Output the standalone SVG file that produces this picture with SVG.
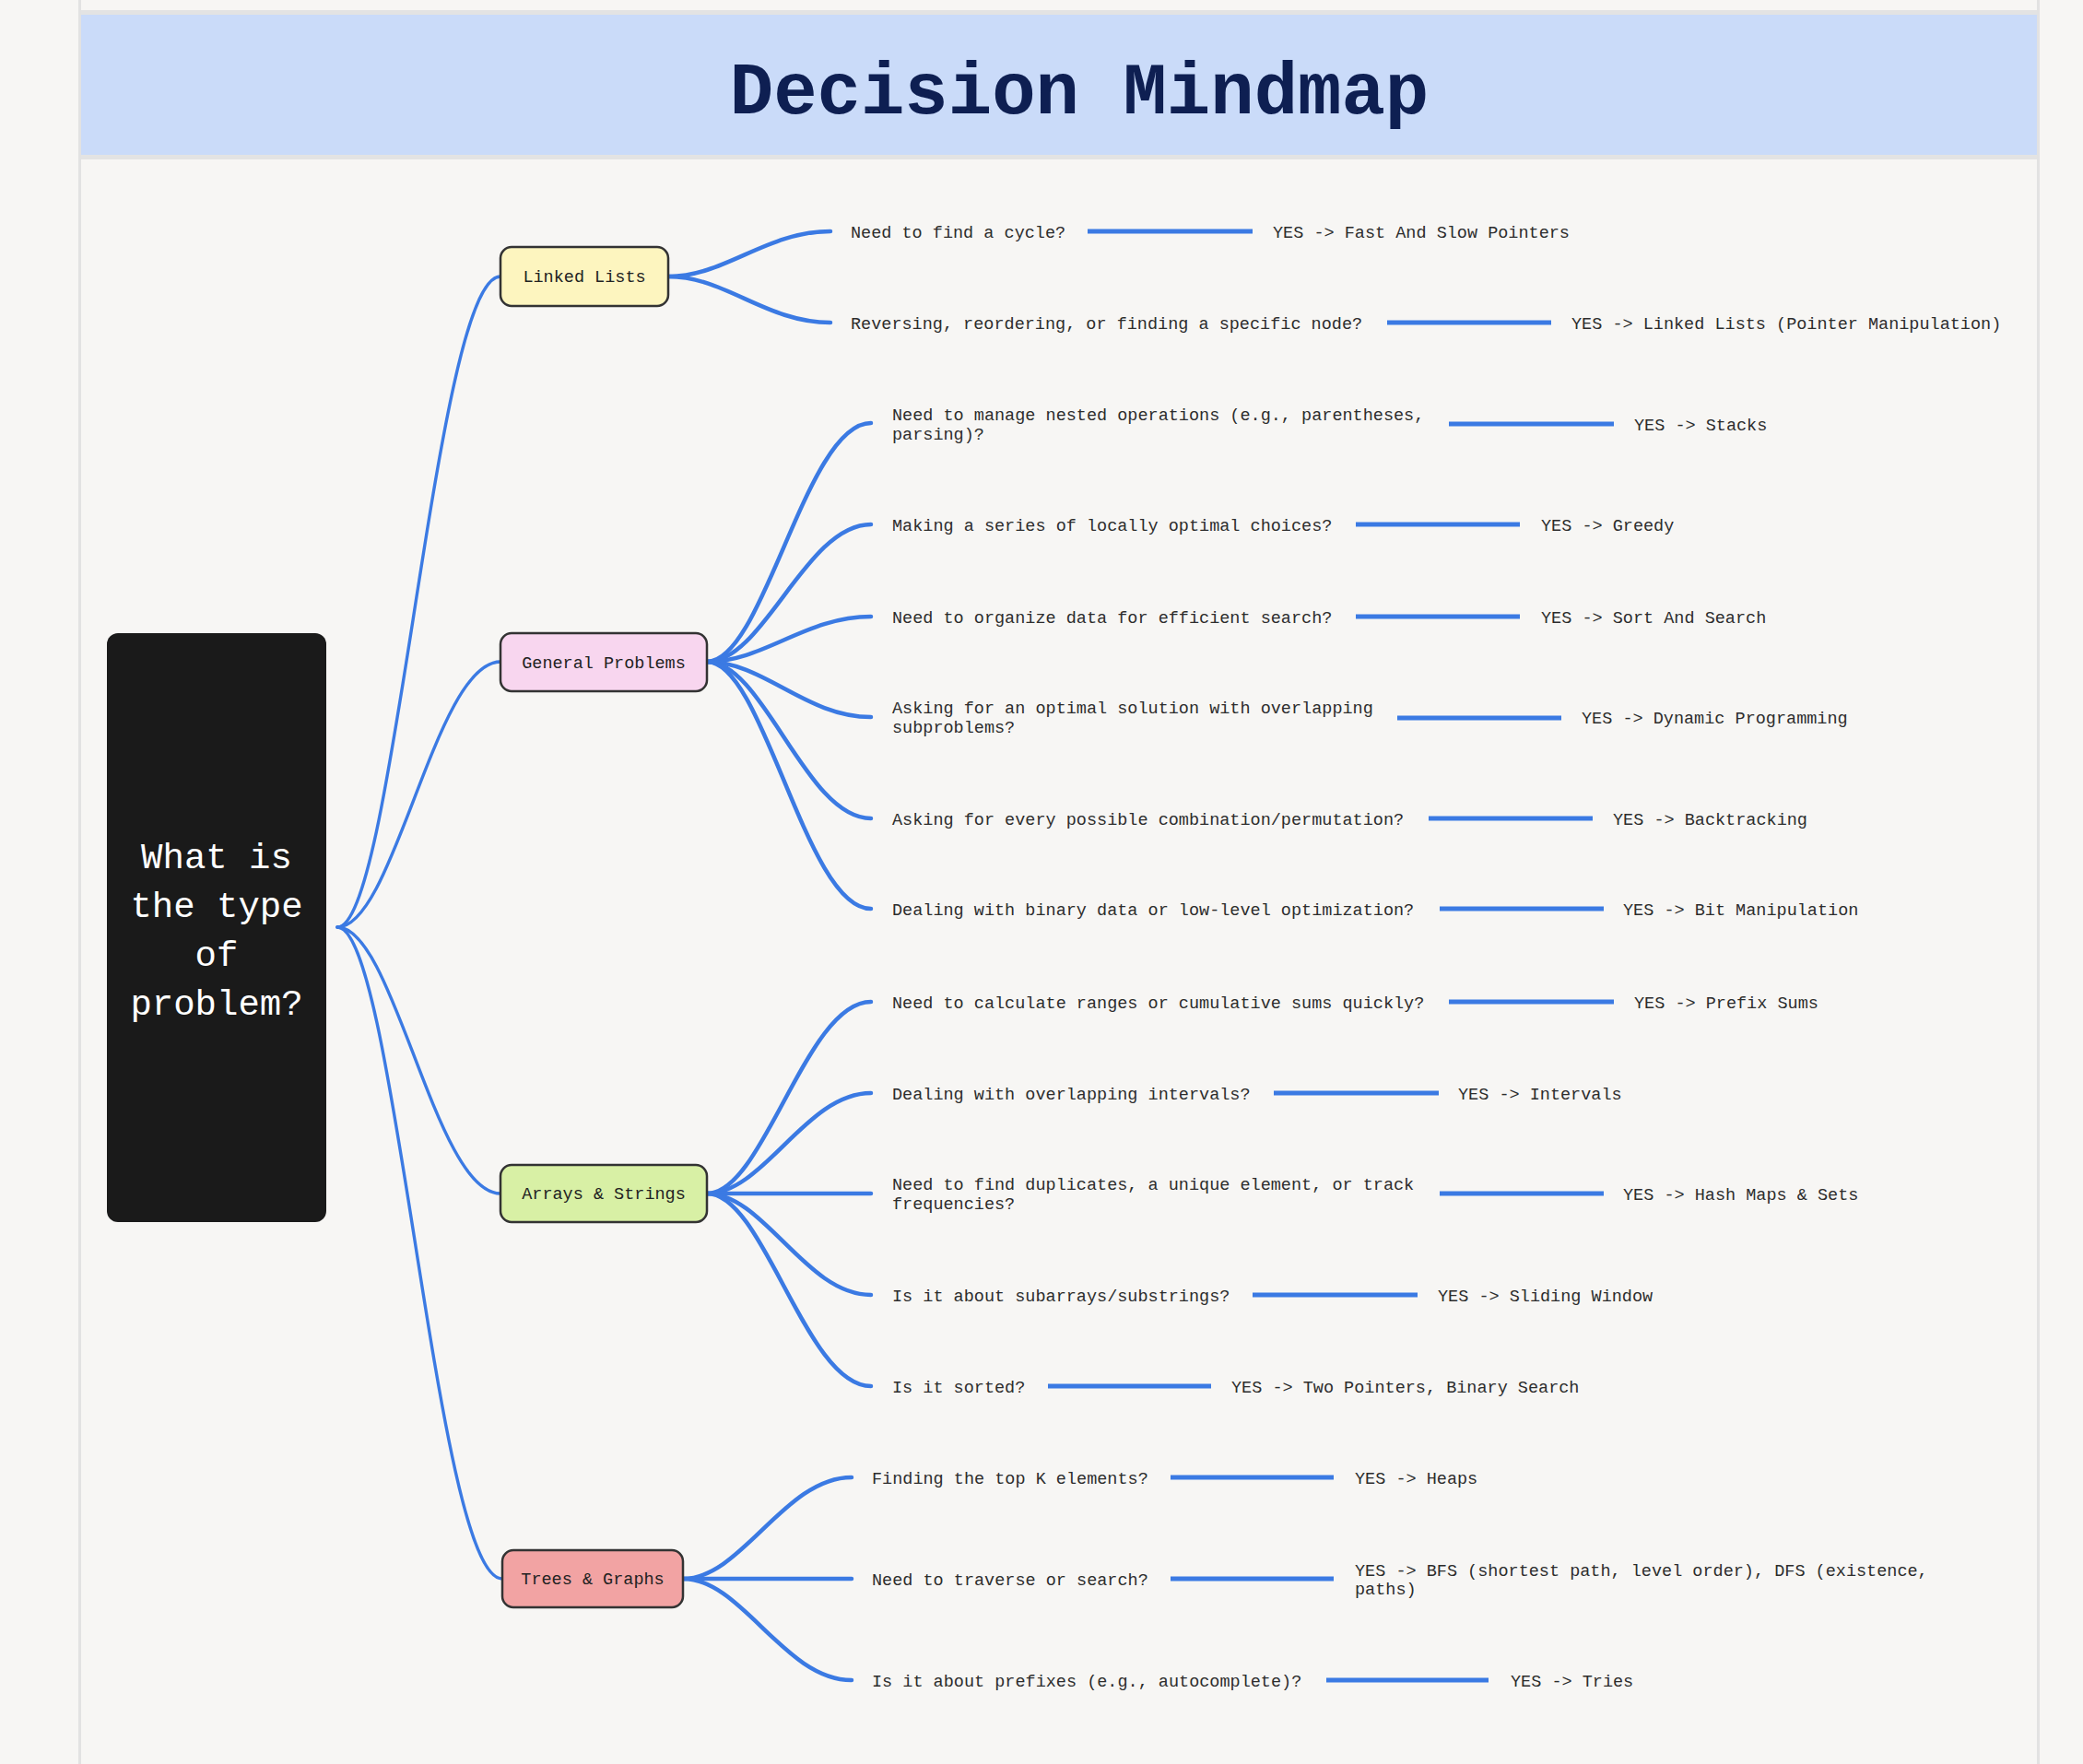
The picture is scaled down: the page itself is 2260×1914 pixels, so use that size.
<svg xmlns="http://www.w3.org/2000/svg" width="2260" height="1914" viewBox="0 0 2260 1914">
<style>
.q{font-family:"Liberation Mono","DejaVu Sans Mono",monospace;font-size:18.5px;fill:#2d2d2d}
.nt{font-family:"Liberation Mono","DejaVu Sans Mono",monospace;font-size:18.5px;fill:#222;text-anchor:middle}
.c1{fill:none;stroke:#3b7ae3;stroke-width:3.4;stroke-linecap:round}
.c2{fill:none;stroke:#3b7ae3;stroke-width:4.5;stroke-linecap:round}
.h{fill:none;stroke:#3b7ae3;stroke-width:5}
.box{stroke:#333;stroke-width:2.5}
</style>
<rect x="0" y="0" width="2260" height="1914" fill="#f7f6f4"/>
<g id="panel">
<rect x="87" y="0" width="2124" height="1914" fill="#f7f6f4"/>
<line x1="86.5" y1="0" x2="86.5" y2="1914" stroke="#e2e2e2" stroke-width="3"/>
<line x1="2211.5" y1="0" x2="2211.5" y2="1914" stroke="#e2e2e2" stroke-width="3"/>
<rect x="88" y="11" width="2122" height="5" fill="#e3e3e3"/>
<rect x="88" y="16" width="2122" height="152" fill="#cadbf9"/>
<rect x="88" y="168" width="2122" height="5" fill="#e3e3e3"/>
<text x="1171" y="123" text-anchor="middle" font-family="'Liberation Mono','DejaVu Sans Mono',monospace" font-weight="bold" font-size="79" fill="#0e1f52">Decision Mindmap</text>
</g>
<g id="connectors">
<path class="c1" d="M366,1006 C428,1006 472,300 543,300"/>
<path class="c1" d="M366,1006 C428,1006 472,718 543,718"/>
<path class="c1" d="M366,1006 C428,1006 472,1295 543,1295"/>
<path class="c1" d="M366,1006 C429,1006 473,1713 545,1713"/>
<path class="c2" d="M725,300 C787,300 831,251 901,251"/>
<path class="c2" d="M725,300 C787,300 831,350 901,350"/>
<path class="c2" d="M767,718 C829,718 874,459 945,459"/>
<path class="c2" d="M767,718 C829,718 874,569 945,569"/>
<path class="c2" d="M767,718 C829,718 874,669 945,669"/>
<path class="c2" d="M767,718 C829,718 874,778 945,778"/>
<path class="c2" d="M767,718 C829,718 874,888 945,888"/>
<path class="c2" d="M767,718 C829,718 874,986 945,986"/>
<path class="c2" d="M767,1295 C829,1295 874,1087 945,1087"/>
<path class="c2" d="M767,1295 C829,1295 874,1186 945,1186"/>
<path class="c2" d="M767,1295 L945,1295"/>
<path class="c2" d="M767,1295 C829,1295 874,1405 945,1405"/>
<path class="c2" d="M767,1295 C829,1295 874,1504 945,1504"/>
<path class="c2" d="M741,1713 C805,1713 851,1603 924,1603"/>
<path class="c2" d="M741,1713 L924,1713"/>
<path class="c2" d="M741,1713 C805,1713 851,1823 924,1823"/>
<line class="h" x1="1180" y1="251" x2="1359" y2="251"/>
<line class="h" x1="1505" y1="350" x2="1683" y2="350"/>
<line class="h" x1="1572" y1="460" x2="1751" y2="460"/>
<line class="h" x1="1471" y1="569" x2="1649" y2="569"/>
<line class="h" x1="1471" y1="669" x2="1649" y2="669"/>
<line class="h" x1="1516" y1="779" x2="1694" y2="779"/>
<line class="h" x1="1550" y1="888" x2="1728" y2="888"/>
<line class="h" x1="1562" y1="986" x2="1740" y2="986"/>
<line class="h" x1="1572" y1="1087" x2="1751" y2="1087"/>
<line class="h" x1="1382" y1="1186" x2="1561" y2="1186"/>
<line class="h" x1="1562" y1="1295" x2="1740" y2="1295"/>
<line class="h" x1="1359" y1="1405" x2="1538" y2="1405"/>
<line class="h" x1="1137" y1="1504" x2="1314" y2="1504"/>
<line class="h" x1="1270" y1="1603" x2="1447" y2="1603"/>
<line class="h" x1="1270" y1="1713" x2="1447" y2="1713"/>
<line class="h" x1="1439" y1="1823" x2="1615" y2="1823"/>
</g>
<g id="root">
<rect x="116" y="687" width="238" height="639" rx="12" fill="#1a1a1a"/>
<text font-family="'Liberation Mono','DejaVu Sans Mono',monospace" font-size="39" fill="#ffffff" text-anchor="middle"><tspan x="235" y="942">What is</tspan><tspan x="235" y="995">the type</tspan><tspan x="235" y="1048">of</tspan><tspan x="235" y="1101">problem?</tspan></text>
</g>
<g id="linked-lists">
<rect class="box" x="543" y="268" width="182" height="64" rx="12" fill="#fdf5bf"/>
<text class="nt" x="634" y="306">Linked Lists</text>
</g>
<g id="general-problems">
<rect class="box" x="543" y="687" width="224" height="63" rx="12" fill="#f8d6ef"/>
<text class="nt" x="655" y="724.5">General Problems</text>
</g>
<g id="arrays-strings">
<rect class="box" x="543" y="1264" width="224" height="62" rx="12" fill="#d8f0a5"/>
<text class="nt" x="655" y="1301">Arrays &amp; Strings</text>
</g>
<g id="trees-graphs">
<rect class="box" x="545" y="1682" width="196" height="62" rx="12" fill="#f2a3a3"/>
<text class="nt" x="643" y="1719">Trees &amp; Graphs</text>
</g>
<g id="ll-q1"><text class="q" x="923" y="257.5">Need to find a cycle?</text></g>
<g id="ll-a1"><text class="q" x="1381" y="257.5">YES -&gt; Fast And Slow Pointers</text></g>
<g id="ll-q2"><text class="q" x="923" y="356.5">Reversing, reordering, or finding a specific node?</text></g>
<g id="ll-a2"><text class="q" x="1705" y="356.5">YES -&gt; Linked Lists (Pointer Manipulation)</text></g>
<g id="gp-q1"><text class="q"><tspan x="968" y="455.5">Need to manage nested operations (e.g., parentheses,</tspan><tspan x="968" y="476.5">parsing)?</tspan></text></g>
<g id="gp-a1"><text class="q" x="1773" y="466.5">YES -&gt; Stacks</text></g>
<g id="gp-q2"><text class="q" x="968" y="575.5">Making a series of locally optimal choices?</text></g>
<g id="gp-a2"><text class="q" x="1672" y="575.5">YES -&gt; Greedy</text></g>
<g id="gp-q3"><text class="q" x="968" y="675.5">Need to organize data for efficient search?</text></g>
<g id="gp-a3"><text class="q" x="1672" y="675.5">YES -&gt; Sort And Search</text></g>
<g id="gp-q4"><text class="q"><tspan x="968" y="774">Asking for an optimal solution with overlapping</tspan><tspan x="968" y="794.5">subproblems?</tspan></text></g>
<g id="gp-a4"><text class="q" x="1716" y="785">YES -&gt; Dynamic Programming</text></g>
<g id="gp-q5"><text class="q" x="968" y="894.5">Asking for every possible combination/permutation?</text></g>
<g id="gp-a5"><text class="q" x="1750" y="894.5">YES -&gt; Backtracking</text></g>
<g id="gp-q6"><text class="q" x="968" y="992.5">Dealing with binary data or low-level optimization?</text></g>
<g id="gp-a6"><text class="q" x="1761" y="992.5">YES -&gt; Bit Manipulation</text></g>
<g id="as-q1"><text class="q" x="968" y="1093.5">Need to calculate ranges or cumulative sums quickly?</text></g>
<g id="as-a1"><text class="q" x="1773" y="1093.5">YES -&gt; Prefix Sums</text></g>
<g id="as-q2"><text class="q" x="968" y="1192.5">Dealing with overlapping intervals?</text></g>
<g id="as-a2"><text class="q" x="1582" y="1192.5">YES -&gt; Intervals</text></g>
<g id="as-q3"><text class="q"><tspan x="968" y="1290.5">Need to find duplicates, a unique element, or track</tspan><tspan x="968" y="1311.5">frequencies?</tspan></text></g>
<g id="as-a3"><text class="q" x="1761" y="1301.5">YES -&gt; Hash Maps &amp; Sets</text></g>
<g id="as-q4"><text class="q" x="968" y="1411.5">Is it about subarrays/substrings?</text></g>
<g id="as-a4"><text class="q" x="1560" y="1411.5">YES -&gt; Sliding Window</text></g>
<g id="as-q5"><text class="q" x="968" y="1510.5">Is it sorted?</text></g>
<g id="as-a5"><text class="q" x="1336" y="1510.5">YES -&gt; Two Pointers, Binary Search</text></g>
<g id="tg-q1"><text class="q" x="946" y="1609.5">Finding the top K elements?</text></g>
<g id="tg-a1"><text class="q" x="1470" y="1609.5">YES -&gt; Heaps</text></g>
<g id="tg-q2"><text class="q" x="946" y="1719.5">Need to traverse or search?</text></g>
<g id="tg-a2"><text class="q"><tspan x="1470" y="1709.5">YES -&gt; BFS (shortest path, level order), DFS (existence,</tspan><tspan x="1470" y="1730">paths)</tspan></text></g>
<g id="tg-q3"><text class="q" x="946" y="1829.5">Is it about prefixes (e.g., autocomplete)?</text></g>
<g id="tg-a3"><text class="q" x="1639" y="1829.5">YES -&gt; Tries</text></g>
</svg>
